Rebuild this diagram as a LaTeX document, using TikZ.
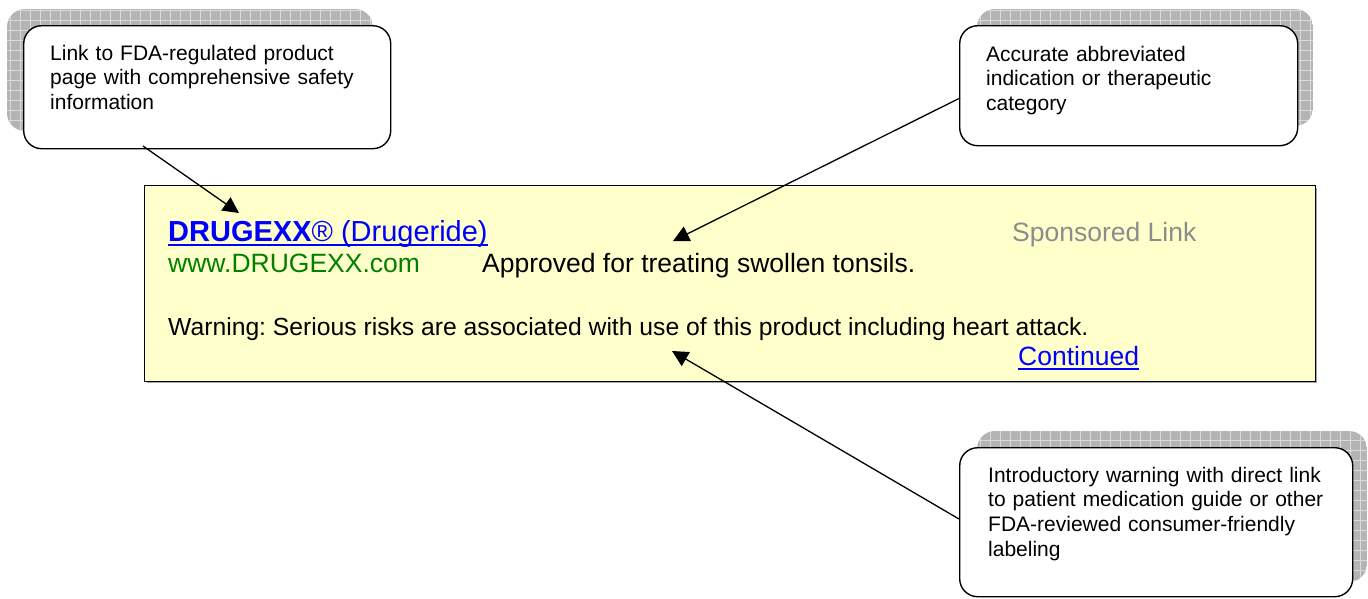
\documentclass[tikz,border=0pt]{standalone}
\usepackage{fontspec}
\setmainfont{Liberation Sans}
\usetikzlibrary{arrows.meta}
\frenchspacing
\definecolor{boxyellow}{HTML}{FFFFCC}
\definecolor{linkblue}{HTML}{0000FF}
\definecolor{urlgreen}{HTML}{008000}
\definecolor{sponsgray}{HTML}{8C8C8C}
\definecolor{shadowgray}{HTML}{B4B4B4}
\definecolor{gridline}{HTML}{DADADA}
\newcommand{\hatchshadow}[4]{%
  \begin{scope}
    \clip[rounded corners=18pt] (#1,#2) rectangle (#3,#4);
    \fill[shadowgray] (#1,#2) rectangle (#3,#4);
    \foreach \gx in {0,10,...,1370} \draw[gridline, line width=0.7pt] (\gx,#2) -- (\gx,#4);
    \foreach \gy in {0,10,...,600} \draw[gridline, line width=0.7pt] (#1,\gy) -- (#3,\gy);
  \end{scope}}
\begin{document}
\begin{tikzpicture}[x=1pt, y=-1pt,
  callout/.style={draw=black, line width=1.4pt, fill=white, rounded corners=18pt,
    anchor=north west, inner sep=0pt},
  callouttext/.style={anchor=base west, inner sep=0pt, text width=370pt, align=left,
    font=\fontsize{21}{24.7}\selectfont},
  adtext/.style={anchor=base west, inner sep=0pt, font=\fontsize{26.5}{30}\selectfont},
  conn/.style={draw=black, line width=1.3pt, -{Triangle[length=16pt,width=16pt]}}]
\useasboundingbox (0,0) rectangle (1368,598);

% main ad box
\fill[gray!70] (147,188) rectangle (1317,383);
\node[draw=black, line width=1.4pt, fill=boxyellow, anchor=north west,
  minimum width=1171pt, minimum height=196pt, inner sep=0pt] (ad) at (144,185) {};

\node[adtext, text=linkblue, font=\fontsize{29}{32}\selectfont] (title) at (168,241) {\textbf{DRUGEXX}® (Drugeride)};
\draw[linkblue, line width=1.9pt] ([yshift=-4pt]title.base west) -- ([yshift=-4pt]title.base east);
\node[adtext, text=sponsgray] (spons) at (1012,241) {Sponsored Link};
\node[adtext, text=urlgreen] (url) at (168,272) {www.DRUGEXX.com};
\node[adtext] (approved) at (482,272) {Approved for treating swollen tonsils.};
\node[adtext, font=\fontsize{24.7}{28}\selectfont] (warning) at (168,335) {Warning: Serious risks are associated with use of this product including heart attack.};
\node[adtext, text=linkblue] (cont) at (1018,365) {Continued};
\draw[linkblue, line width=1.8pt] ([yshift=-4pt]cont.base west) -- ([yshift=-4pt]cont.base east);

% callout 1
\hatchshadow{7}{9}{373}{131}
\node[callout, minimum width=367pt, minimum height=123pt] (c1) at (23,25) {};
\node[callouttext] (t1) at (50,60) {Link to FDA-regulated product\\page with comprehensive safety\\information};

% callout 2
\hatchshadow{977}{9}{1313}{126}
\node[callout, minimum width=338pt, minimum height=120pt] (c2) at (959,25) {};
\node[callouttext] (t2) at (986,61) {Accurate abbreviated\\indication or therapeutic\\category};

% callout 3
\hatchshadow{977}{431}{1367}{582}
\node[callout, minimum width=393pt, minimum height=149pt] (c3) at (959,447) {};
\node[callouttext] (t3) at (988,482) {Introductory warning with direct link\\to patient medication guide or other\\FDA-reviewed consumer-friendly\\labeling};

% connectors
\coordinate (s1) at (143,146);
\coordinate (a1) at (239,213);
\coordinate (s2) at (960,98);
\coordinate (a2) at (673,241);
\coordinate (s3) at (959,519);
\coordinate (a3) at (672,351);
\draw[conn] (s1) -- (a1);
\draw[conn] (s2) -- (a2);
\draw[conn] (s3) -- (a3);
\end{tikzpicture}
\end{document}
